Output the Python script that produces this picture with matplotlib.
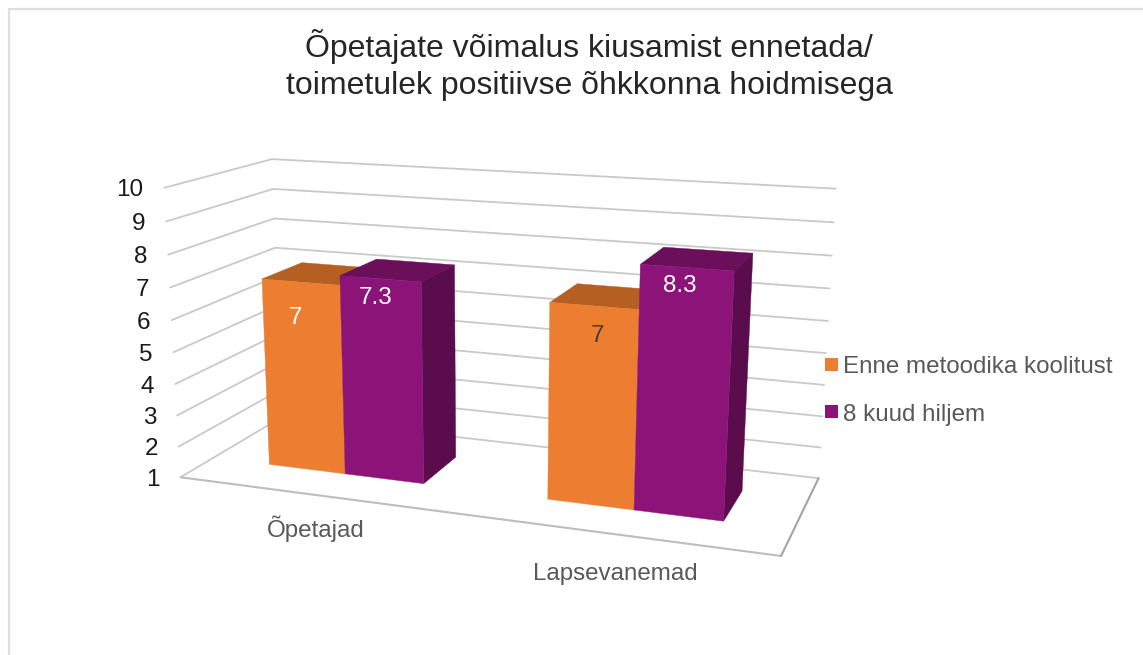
"""Excel style 3D column chart: box projected to the page with a fitted camera matrix."""
import numpy as np
import matplotlib; matplotlib.use("Agg")
import matplotlib.pyplot as plt
from matplotlib.patches import Polygon, Rectangle

# ---- data ----
categories = ["Õpetajad", "Lapsevanemad"]
series_names = ["Enne metoodika koolitust", "8 kuud hiljem"]
before = [7, 7]
after = [7.3, 8.3]
value_ticks = [1, 2, 3, 4, 5, 6, 7, 8, 9, 10]

# ---- style ----
W, H = 1143, 655
ORANGE = ("#ED7D31", "#B55F23")            # front, top
PURPLE = ("#8C1478", "#6B0F5B", "#5B0C4D")  # front, top, side
GRID = "#C9C9C9"
FONT = "Liberation Sans"
GROUP_CENTRES = (0.25, 0.75)
BAR_W, DEPTH = 0.1425, (0.305, 0.706)

# ---- camera: box corners (x, depth, value) -> page pixels ----
world = [(0,0,1),(1,0,1),(1,1,1),(0,1,1),(0,0,10),(0,1,10),(1,1,10),(0,0,2),(0,0,9),(1,1,2),(1,1,9),(0,1,9),(0,1,7)]
page = [(181,477),(781,556),(818.3,478.3),(282,417),(164,188),(272,159),(835.7,189),(178,447),(167,221),(820.7,447.3),(833.7,222),(273,189),(275,248)]
rows = []
for (x, y, z), (u, v) in zip(world, page):
    rows.append([x, y, z, 1, 0, 0, 0, 0, -u*x, -u*y, -u*z, -u])
    rows.append([0, 0, 0, 0, x, y, z, 1, -v*x, -v*y, -v*z, -v])
P = np.linalg.svd(np.array(rows, float))[2][-1].reshape(3, 4)

def proj(x, y, z):
    w = P @ np.array([x, y, z, 1.0])
    return w[0] / w[2], w[1] / w[2]

def line(ax, a, b, color=GRID, lw=1.3, z=1):
    (x0, y0), (x1, y1) = proj(*a), proj(*b)
    ax.plot([x0, x1], [y0, y1], color=color, lw=lw, solid_capstyle="round", zorder=z)

def face(ax, pts, color, z):
    ax.add_patch(Polygon([proj(*p) for p in pts], closed=True, fc=color, ec=color, lw=0.3, zorder=z))

def bar(ax, x0, x1, top, colors, z, side=False):
    y0, y1 = DEPTH
    face(ax, [(x0,y0,top),(x1,y0,top),(x1,y1,top),(x0,y1,top)], colors[1], z)
    if side:
        face(ax, [(x1,y0,1),(x1,y1,1),(x1,y1,top),(x1,y0,top)], colors[2], z)
    face(ax, [(x0,y0,1),(x1,y0,1),(x1,y0,top),(x0,y0,top)], colors[0], z + 0.1)

fig = plt.figure(figsize=(W/100, H/100), dpi=100)
ax = fig.add_axes([0, 0, 1, 1])
ax.set_xlim(0, W); ax.set_ylim(H, 0); ax.axis("off")

# chart frame, runs off the right and bottom of the crop
ax.plot([8.5, 8.5, W], [H, 8.5, 8.5], color="#DEDEDE", lw=1.6, zorder=0)

# walls and floor
for v in value_ticks:
    line(ax, (0, 0, v), (0, 1, v))
    line(ax, (0, 1, v), (1, 1, v))
    tx, ty = proj(0, 0, v)
    ax.text(tx - 21, ty, str(v), ha="right", va="center_baseline", fontsize=17.5, color="#1A1A1A", family=FONT)
line(ax, (0, 0, 1), (1, 0, 1), color="#BDBDBD", lw=1.5)
line(ax, (1, 0, 1), (1, 1, 1), color="#A3A3A3", lw=1.5)

# columns
for i, c in enumerate(GROUP_CENTRES):
    bar(ax, c - BAR_W, c, before[i], ORANGE, 3 + i)
    bar(ax, c, c + BAR_W, after[i], PURPLE, 3.5 + i, side=True)

# value labels
lab_col = [("white", "white"), ("#404040", "white")]
lab_pos = [(295, 316, 376, 295), (597, 333, 680, 283)]
for i, (xa, ya, xb, yb) in enumerate(lab_pos):
    ax.text(xa, ya, f"{before[i]:g}", color=lab_col[i][0], fontsize=17.5, ha="center", va="center_baseline", family=FONT, zorder=8)
    ax.text(xb, yb, f"{after[i]:g}", color=lab_col[i][1], fontsize=17.5, ha="center", va="center_baseline", family=FONT, zorder=8)

# category labels
ax.text(316, 529, categories[0], color="#595959", fontsize=17.4, ha="center", va="center", family=FONT)
ax.text(615, 574, categories[1], color="#595959", fontsize=17.4, ha="center", va="center", family=FONT)

# title
ax.text(589, 65, "Õpetajate võimalus kiusamist ennetada/\ntoimetulek positiivse õhkkonna hoidmisega",
        ha="center", va="center", fontsize=23, color="#262626", family=FONT, linespacing=1.27)

# legend
for (ly, base, name, col) in zip((364, 411), (373, 421), series_names, (ORANGE[0], PURPLE[0])):
    ax.add_patch(Rectangle((825, ly - 6.5), 13, 13, fc=col, ec="none", zorder=6))
    ax.text(843, base, name, va="baseline", ha="left", fontsize=17.4, color="#595959", family=FONT)

fig.savefig("out.png", dpi=100)
